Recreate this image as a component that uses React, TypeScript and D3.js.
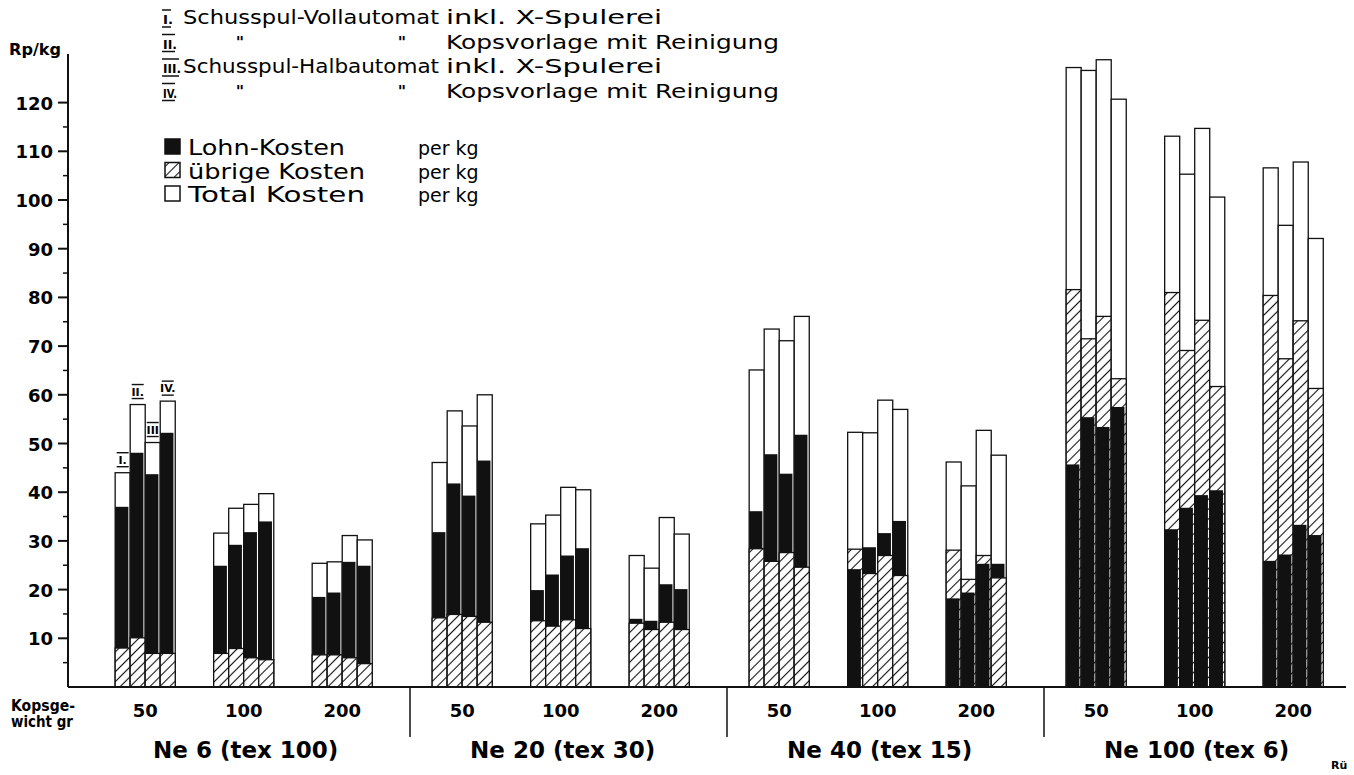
import React, { useEffect, useRef } from 'react';
import * as d3 from 'd3';

const yarns = ['Ne 6 (tex 100)', 'Ne 20 (tex 30)', 'Ne 40 (tex 15)', 'Ne 100 (tex 6)'];
const weights = ['50', '100', '200'];
const variants = ['I.', 'II.', 'III', 'IV.'];

// one row per yarn / Kopsgewicht group, columns = variants I..IV (Rp/kg)
const totalKosten = [
  [44, 58, 50.2, 58.7],
  [31.6, 36.7, 37.5, 39.7],
  [25.4, 25.7, 31.1, 30.2],
  [46.1, 56.7, 53.6, 60],
  [33.5, 35.3, 41, 40.5],
  [27, 24.4, 34.8, 31.4],
  [65.1, 73.5, 71.1, 76.1],
  [52.3, 52.2, 58.9, 57],
  [46.2, 41.3, 52.7, 47.6],
  [127.2, 126.6, 128.8, 120.7],
  [113.1, 105.3, 114.7, 100.6],
  [106.6, 94.8, 107.8, 92.1],
];
const lohnKosten = [
  [37, 48.1, 43.7, 52.2],
  [24.9, 29.2, 31.8, 34],
  [18.5, 19.4, 25.7, 24.9],
  [31.8, 41.8, 39.3, 46.5],
  [19.9, 23.1, 27, 28.5],
  [14, 13.6, 21.1, 20.1],
  [36.1, 47.8, 43.8, 51.8],
  [24.2, 28.7, 31.6, 34.1],
  [18.2, 19.4, 25.3, 25.3],
  [45.7, 55.4, 53.4, 57.5],
  [32.4, 36.8, 39.4, 40.4],
  [25.9, 27.2, 33.3, 31.2],
];
const uebrigeKosten = [
  [8, 10.1, 6.9, 6.9],
  [6.9, 7.9, 6, 5.6],
  [6.6, 6.6, 6, 4.8],
  [14.2, 14.9, 14.5, 13.3],
  [13.6, 12.5, 13.8, 12],
  [13.1, 11.8, 13.3, 11.8],
  [28.4, 25.8, 27.6, 24.6],
  [28.3, 23.3, 27, 22.9],
  [28.1, 22.1, 27, 22.4],
  [81.6, 71.5, 76.1, 63.3],
  [81, 69.1, 75.3, 61.7],
  [80.4, 67.4, 75.2, 61.3],
];

const yTicks = [10, 20, 30, 40, 50, 60, 70, 80, 90, 100, 110, 120];
const yMinorTicks = [5, 15, 25, 35, 45, 55, 65, 75, 85, 95, 105, 115];

const machineNums = ['I.', 'II.', 'III.', 'IV.'];
const machineTypes = ['Schusspul-Vollautomat', '"', 'Schusspul-Halbautomat', '"'];
const machineSupply = ['inkl. X-Spulerei', 'Kopsvorlage mit Reinigung', 'inkl. X-Spulerei', 'Kopsvorlage mit Reinigung'];

const costLabels = ['Lohn-Kosten', 'übrige Kosten', 'Total Kosten'];
const costFills = ['#111', 'url(#hatch)', 'white'];

const W = 1354;
const H = 775;
const FONT = "'DejaVu Sans', 'Noto Sans', sans-serif";

const KostenChart: React.FC = () => {
  const svgRef = useRef<SVGSVGElement>(null);

  useEffect(() => {
    if (!svgRef.current) return;
    const svg = d3.select(svgRef.current);
    svg.selectAll('*').remove();

    svg.append('rect').attr('width', W).attr('height', H).attr('fill', 'white');

    const defs = svg.append('defs');
    const pat = defs.append('pattern')
      .attr('id', 'hatch')
      .attr('patternUnits', 'userSpaceOnUse')
      .attr('width', 8)
      .attr('height', 7)
      .attr('patternTransform', 'rotate(-45)');
    pat.append('rect').attr('width', 8).attr('height', 7).attr('fill', 'white');
    pat.append('line')
      .attr('x1', 0).attr('x2', 8).attr('y1', 3.5).attr('y2', 3.5)
      .attr('stroke', '#111').attr('stroke-width', 1.1);

    const y = d3.scaleLinear().domain([0, 120]).range([687, 102.6]);
    const xYarn = d3.scaleBand<string>().domain(yarns).range([93, 1361]);
    const xWeight = d3.scaleBand<string>()
      .domain(weights)
      .range([0, xYarn.bandwidth()])
      .paddingInner(0.39)
      .paddingOuter(0.304)
      .align(0.37);
    const xVar = d3.scaleBand<string>().domain(variants).range([0, xWeight.bandwidth()]);

    const g = svg.append('g');

    // Bars: total (white) behind, then the larger of Lohn/übrige, smaller in front
    yarns.forEach((yarn, yi) => {
      weights.forEach((w, wi) => {
        const gi = yi * 3 + wi;
        const gx = (xYarn(yarn) || 0) + (xWeight(w) || 0);
        variants.forEach((v, vi) => {
          const x0 = gx + (xVar(v) || 0);
          const bw = xVar.bandwidth();
          const parts = [
            { val: lohnKosten[gi][vi], fill: '#111' },
            { val: uebrigeKosten[gi][vi], fill: 'url(#hatch)' },
          ].sort((a, b) => b.val - a.val);
          const segs = [{ val: totalKosten[gi][vi], fill: 'white' }, ...parts];
          segs.forEach(s => {
            if (s.fill === '#111') {
              g.append('rect')
                .attr('x', x0)
                .attr('y', y(s.val))
                .attr('width', bw - 1.8)
                .attr('height', y(0) - y(s.val))
                .attr('fill', '#111');
            } else {
              g.append('rect')
                .attr('x', x0)
                .attr('y', y(s.val))
                .attr('width', bw)
                .attr('height', y(0) - y(s.val))
                .attr('fill', s.fill)
                .attr('stroke', '#111')
                .attr('stroke-width', 1.3);
            }
          });

          // roman numeral marks over the first group
          if (gi === 0) {
            const cx = x0 + bw / 2;
            const ty = y(totalKosten[gi][vi]) - 9;
            g.append('text')
              .attr('x', cx)
              .attr('y', ty)
              .attr('text-anchor', 'middle')
              .style('font-family', FONT)
              .style('font-size', '11px')
              .style('font-weight', 'bold')
              .text(v);
            [ty - 11, ty + 3].forEach(ly => {
              g.append('line')
                .attr('x1', cx - 6).attr('x2', cx + 6)
                .attr('y1', ly).attr('y2', ly)
                .attr('stroke', '#111').attr('stroke-width', 1.4);
            });
          }
        });
      });
    });

    // Y axis
    svg.append('line')
      .attr('x1', 68).attr('x2', 68)
      .attr('y1', y(0)).attr('y2', 54)
      .attr('stroke', '#111').attr('stroke-width', 2);
    yTicks.forEach(t => {
      svg.append('line')
        .attr('x1', 58).attr('x2', 68)
        .attr('y1', y(t)).attr('y2', y(t))
        .attr('stroke', '#111').attr('stroke-width', 2);
      svg.append('text')
        .attr('x', 53)
        .attr('y', y(t) + 7)
        .attr('text-anchor', 'end')
        .style('font-family', FONT)
        .style('font-size', '18px')
        .style('font-weight', 'bold')
        .text(t);
    });
    yMinorTicks.forEach(t => {
      svg.append('line')
        .attr('x1', 63).attr('x2', 68)
        .attr('y1', y(t)).attr('y2', y(t))
        .attr('stroke', '#111').attr('stroke-width', 1.5);
    });
    svg.append('text')
      .attr('x', 9).attr('y', 55)
      .attr('textLength', 52)
      .attr('lengthAdjust', 'spacingAndGlyphs')
      .style('font-family', FONT)
      .style('font-size', '16px')
      .style('font-weight', 'bold')
      .text('Rp/kg');

    // baseline and group dividers
    svg.append('line')
      .attr('x1', 68).attr('x2', 1346)
      .attr('y1', y(0)).attr('y2', y(0))
      .attr('stroke', '#111').attr('stroke-width', 2);
    yarns.slice(1).forEach(yarn => {
      const x = xYarn(yarn) || 0;
      svg.append('line')
        .attr('x1', x).attr('x2', x)
        .attr('y1', y(0)).attr('y2', 737)
        .attr('stroke', '#111').attr('stroke-width', 1.5);
    });

    // x labels
    yarns.forEach(yarn => {
      weights.forEach(w => {
        svg.append('text')
          .attr('x', (xYarn(yarn) || 0) + (xWeight(w) || 0) + xWeight.bandwidth() / 2)
          .attr('y', 717)
          .attr('text-anchor', 'middle')
          .style('font-family', FONT)
          .style('font-size', '18px')
          .style('font-weight', 'bold')
          .text(w);
      });
      svg.append('text')
        .attr('x', (xYarn(yarn) || 0) + (xWeight('100') || 0) + xWeight.bandwidth() / 2 + 2)
        .attr('y', 758)
        .attr('text-anchor', 'middle')
        .style('font-family', FONT)
        .style('font-size', '23px')
        .style('font-weight', 'bold')
        .text(yarn);
    });
    svg.append('text')
      .attr('x', 11).attr('y', 711)
      .attr('textLength', 64)
      .attr('lengthAdjust', 'spacingAndGlyphs')
      .style('font-family', FONT)
      .style('font-size', '15px')
      .style('font-weight', 'bold')
      .text('Kopsge-');
    svg.append('text')
      .attr('x', 11).attr('y', 727)
      .attr('textLength', 62)
      .attr('lengthAdjust', 'spacingAndGlyphs')
      .style('font-family', FONT)
      .style('font-size', '15px')
      .style('font-weight', 'bold')
      .text('wicht gr');
    svg.append('text')
      .attr('x', 1331).attr('y', 769)
      .style('font-family', FONT)
      .style('font-size', '11px')
      .style('font-weight', 'bold')
      .text('Rü');

    // machine legend
    const leg = svg.append('g');
    machineNums.forEach((n, i) => {
      const by = 24 + i * 24.5;
      const nw = 6 + (n.length - 1) * 4;
      leg.append('text')
        .attr('x', 163).attr('y', by)
        .attr('textLength', nw)
        .attr('lengthAdjust', 'spacingAndGlyphs')
        .style('font-family', FONT)
        .style('font-size', '13px')
        .style('font-weight', 'bold')
        .text(n);
      [by - 14, by + 3].forEach(ly => {
        leg.append('line')
          .attr('x1', 162).attr('x2', 163 + nw - 2)
          .attr('y1', ly).attr('y2', ly)
          .attr('stroke', '#111').attr('stroke-width', 1.5);
      });
      if (machineTypes[i] === '"') {
        [240, 402].forEach(dx => {
          leg.append('text')
            .attr('x', dx).attr('y', by - 1)
            .attr('text-anchor', 'middle')
            .style('font-family', FONT)
            .style('font-size', '16px')
            .style('font-weight', 'bold')
            .text('"');
        });
      } else {
        leg.append('text')
          .attr('x', 183).attr('y', by)
          .attr('textLength', 256)
          .attr('lengthAdjust', 'spacingAndGlyphs')
          .style('font-family', FONT)
          .style('font-size', '20px')
          .text(machineTypes[i]);
      }
      leg.append('text')
        .attr('x', 446).attr('y', by)
        .attr('textLength', machineSupply[i].length > 20 ? 333 : 216)
        .attr('lengthAdjust', 'spacingAndGlyphs')
        .style('font-family', FONT)
        .style('font-size', '20px')
        .text(machineSupply[i]);
    });

    // cost legend
    costLabels.forEach((c, i) => {
      const by = 155 + i * 23.5;
      leg.append('rect')
        .attr('x', 165).attr('y', by - 16)
        .attr('width', 15).attr('height', 15)
        .attr('fill', costFills[i])
        .attr('stroke', '#111').attr('stroke-width', 1.5);
      leg.append('text')
        .attr('x', 188).attr('y', by)
        .attr('textLength', i === 0 ? 157 : 177)
        .attr('lengthAdjust', 'spacingAndGlyphs')
        .style('font-family', FONT)
        .style('font-size', '21px')
        .text(c);
      leg.append('text')
        .attr('x', 418).attr('y', by)
        .style('font-family', FONT)
        .style('font-size', '19px')
        .text('per kg');
    });
  }, []);

  return <svg ref={svgRef} width={W} height={H} style={{ display: 'block' }}></svg>;
};

export default function App() {
  return (
    <div style={{ position: 'absolute', left: 0, top: 0 }}>
      <KostenChart />
    </div>
  );
}
